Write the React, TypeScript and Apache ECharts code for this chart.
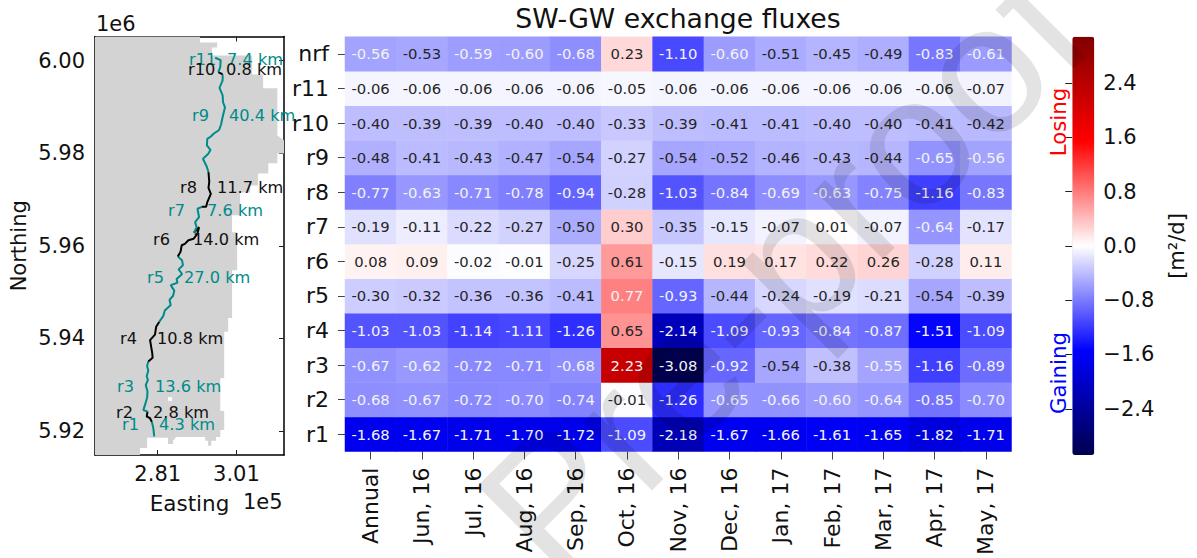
import React, { useEffect, useRef } from "react";
import * as echarts from "echarts";

const months = ["Annual", "Jun, 16", "Jul, 16", "Aug, 16", "Sep, 16", "Oct, 16", "Nov, 16", "Dec, 16", "Jan, 17", "Feb, 17", "Mar, 17", "Apr, 17", "May, 17"];
const reaches = ["r1", "r2", "r3", "r4", "r5", "r6", "r7", "r8", "r9", "r10", "r11", "nrf"];

const rowNrf = [-0.56, -0.53, -0.59, -0.6, -0.68, 0.23, -1.1, -0.6, -0.51, -0.45, -0.49, -0.83, -0.61];
const rowR11 = [-0.06, -0.06, -0.06, -0.06, -0.06, -0.05, -0.06, -0.06, -0.06, -0.06, -0.06, -0.06, -0.07];
const rowR10 = [-0.4, -0.39, -0.39, -0.4, -0.4, -0.33, -0.39, -0.41, -0.41, -0.4, -0.4, -0.41, -0.42];
const rowR9 = [-0.48, -0.41, -0.43, -0.47, -0.54, -0.27, -0.54, -0.52, -0.46, -0.43, -0.44, -0.65, -0.56];
const rowR8 = [-0.77, -0.63, -0.71, -0.78, -0.94, -0.28, -1.03, -0.84, -0.69, -0.63, -0.75, -1.16, -0.83];
const rowR7 = [-0.19, -0.11, -0.22, -0.27, -0.5, 0.3, -0.35, -0.15, -0.07, 0.01, -0.07, -0.64, -0.17];
const rowR6 = [0.08, 0.09, -0.02, -0.01, -0.25, 0.61, -0.15, 0.19, 0.17, 0.22, 0.26, -0.28, 0.11];
const rowR5 = [-0.3, -0.32, -0.36, -0.36, -0.41, 0.77, -0.93, -0.44, -0.24, -0.19, -0.21, -0.54, -0.39];
const rowR4 = [-1.03, -1.03, -1.14, -1.11, -1.26, 0.65, -2.14, -1.09, -0.93, -0.84, -0.87, -1.51, -1.09];
const rowR3 = [-0.67, -0.62, -0.72, -0.71, -0.68, 2.23, -3.08, -0.92, -0.54, -0.38, -0.55, -1.16, -0.89];
const rowR2 = [-0.68, -0.67, -0.72, -0.7, -0.74, -0.01, -1.26, -0.65, -0.66, -0.6, -0.64, -0.85, -0.7];
const rowR1 = [-1.68, -1.67, -1.71, -1.7, -1.72, -1.09, -2.18, -1.67, -1.66, -1.61, -1.65, -1.82, -1.71];
const rows = [rowR1, rowR2, rowR3, rowR4, rowR5, rowR6, rowR7, rowR8, rowR9, rowR10, rowR11, rowNrf];

const colorbarTicks = [-2.4, -1.6, -0.8, 0, 0.8, 1.6, 2.4];

// catchment outline: easting (1e5), northing (1e6)
const catchmentE = [2.6505, 2.9177, 2.9177, 2.961, 2.961, 2.948, 2.948, 3.05, 3.05, 3.078, 3.078, 3.114, 3.114, 3.131, 3.131, 3.114, 3.114, 3.091, 3.091, 3.065, 3.065, 3.045, 3.045, 3.0195, 3.0195, 2.999, 2.999, 3.012, 3.012, 2.999, 2.999, 2.989, 2.989, 2.979, 2.979, 2.969, 2.969, 2.979, 2.979, 2.969, 2.969, 2.958, 2.958, 2.946, 2.946, 2.938, 2.938, 2.9305, 2.9305, 2.857, 2.849, 2.849, 2.836, 2.836, 2.783, 2.783, 2.765, 2.765, 2.6505];
const catchmentN = [6.0052, 6.0052, 6.0039, 6.0039, 6.0028, 6.0028, 6.0011, 6.0011, 5.997, 5.997, 5.994, 5.994, 5.9838, 5.9828, 5.9799, 5.9799, 5.9778, 5.9778, 5.9756, 5.9756, 5.973, 5.973, 5.9715, 5.9715, 5.9666, 5.9666, 5.9629, 5.9629, 5.9547, 5.9547, 5.9444, 5.9444, 5.9414, 5.9414, 5.9314, 5.9314, 5.9243, 5.9243, 5.9202, 5.9202, 5.9187, 5.9187, 5.9179, 5.9179, 5.9168, 5.9168, 5.9179, 5.9179, 5.9187, 5.9187, 5.9179, 5.9172, 5.9172, 5.9185, 5.9185, 5.9163, 5.9163, 5.9148, 5.9148];
const holeE = [2.836, 2.8465, 2.8465, 2.836];
const holeN = [5.9273, 5.9273, 5.9265, 5.9265];

const r1Path = [[2.795, 5.922], [2.799, 5.9205], [2.801, 5.9188]];
const r2Path = [[2.784, 5.9242], [2.782, 5.9231], [2.79, 5.9228], [2.795, 5.922]];
const r3Path = [[2.786, 5.935], [2.783, 5.934], [2.786, 5.933], [2.782, 5.9318], [2.785, 5.931], [2.7795, 5.9299], [2.784, 5.9285], [2.783, 5.9272], [2.779, 5.926], [2.7735, 5.9245], [2.784, 5.9242]];
const r4Path = [[2.814, 5.9436], [2.806, 5.9425], [2.803, 5.9408], [2.7905, 5.9396], [2.796, 5.9368], [2.797, 5.9358], [2.786, 5.935]];
const r5Path = [[2.861, 5.9577], [2.872, 5.9568], [2.874, 5.9558], [2.863, 5.9549], [2.872, 5.9539], [2.858, 5.9528], [2.86, 5.952], [2.843, 5.9515], [2.852, 5.9503], [2.849, 5.9492], [2.84, 5.9483], [2.843, 5.9472], [2.828, 5.946], [2.824, 5.9448], [2.814, 5.9436]];
const r6Path = [[2.902, 5.9628], [2.915, 5.964], [2.911, 5.9626], [2.901, 5.9615], [2.888, 5.9612], [2.879, 5.9604], [2.871, 5.9601], [2.868, 5.9587], [2.861, 5.9577]];
const r7Path = [[2.922, 5.9684], [2.911, 5.968], [2.915, 5.9662], [2.905, 5.9651], [2.909, 5.964], [2.902, 5.9628]];
const r8Path = [[2.939, 5.9759], [2.941, 5.9738], [2.939, 5.9725], [2.945, 5.9712], [2.936, 5.9694], [2.933, 5.9684], [2.922, 5.9684]];
const r9Path = [[2.975, 5.997], [2.975, 5.9957], [2.967, 5.9941], [2.975, 5.9925], [2.976, 5.991], [2.981, 5.9899], [2.975, 5.9878], [2.971, 5.9862], [2.966, 5.985], [2.952, 5.9842], [2.945, 5.9836], [2.936, 5.9831], [2.935, 5.9817], [2.944, 5.9807], [2.938, 5.9798], [2.925, 5.9788], [2.935, 5.977], [2.939, 5.9759]];
const r10Path = [[2.964, 5.9975], [2.975, 5.997]];
const r11Path = [[2.956, 6.0006], [2.97, 6.0001], [2.969, 5.9986], [2.964, 5.9975]];

const TEAL = "#008b8b";
const FONT = "DejaVu Sans";

const riverLine = (path: number[][], color: string) => ({
  type: "line",
  xAxisIndex: 0,
  yAxisIndex: 0,
  data: path,
  symbol: "none",
  silent: true,
  z: 5,
  lineStyle: { color, width: 2 },
});

const polygonSeries = (es: number[], ns: number[], color: string, z: number) => ({
  type: "custom",
  xAxisIndex: 0,
  yAxisIndex: 0,
  silent: true,
  z,
  data: [[es[0], ns[0]]],
  clip: true,
  renderItem: (_: any, api: any) => ({
    type: "polygon",
    shape: { points: es.map((e, i) => api.coord([e, ns[i]])) },
    style: { fill: color },
  }),
});

const mapLabel = (text: string, x: number, y: number, color: string) => ({
  type: "text",
  x,
  y,
  z: 20,
  silent: true,
  style: { text, fill: color, font: `16.2px "${FONT}"`, textAlign: "left", textVerticalAlign: "middle" },
});

const bigText = (text: string, x: number, y: number, size: number, color = "#000", rotation = 0, align = "center") => ({
  type: "text",
  x,
  y,
  rotation,
  z: 20,
  silent: true,
  style: { text, fill: color, font: `${size}px "${FONT}"`, textAlign: align, textVerticalAlign: "middle" },
});

export default function App() {
  const ref = useRef<HTMLDivElement>(null);
  useEffect(() => {
    const chart = echarts.init(ref.current!, undefined, { renderer: "svg" });
    const heatData: any[] = [];
    rows.forEach((row, y) =>
      row.forEach((v, x) =>
        heatData.push({
          value: [x, y, v],
          label: { color: (v < 0 ? v <= -0.55 : v >= 0.7) ? "#f2f2f2" : "#262626" },
        })
      )
    );
    const black = { color: "#000", width: 1.5 };
    const mapTick = { show: true, inside: true, length: 5, lineStyle: { color: "#222", width: 1 } };
    chart.setOption({
      animation: false,
      backgroundColor: "#fff",
      textStyle: { fontFamily: FONT },
      title: {
        text: "SW-GW exchange fluxes",
        left: 673,
        top: 0,
        textAlign: "center",
        textStyle: { fontFamily: FONT, fontSize: 26.7, fontWeight: "normal", color: "#111" },
      },
      grid: [
        { left: 95, top: 36.5, width: 189, height: 418.5, containLabel: false },
        { left: 345, top: 36.7, width: 666.5, height: 418.3 },
        { left: 1072.3, top: 36.7, width: 22, height: 418.3 },
      ],
      xAxis: [
        {
          gridIndex: 0,
          type: "value",
          min: 2.6505,
          max: 3.131,
          name: "Easting",
          nameLocation: "middle",
          nameGap: 37,
          nameTextStyle: { fontSize: 21.5, color: "#111", fontFamily: FONT },
          axisLine: { show: true, onZero: false, lineStyle: black },
          axisTick: { ...mapTick, customValues: [2.81, 3.01] },
          axisLabel: { customValues: [2.81, 3.01], formatter: (v: number) => v.toFixed(2), fontSize: 21, color: "#111", margin: 8, fontFamily: FONT },
          splitLine: { show: false },
        },
        {
          gridIndex: 0,
          type: "value",
          position: "top",
          min: 2.6505,
          max: 3.131,
          axisLine: { show: true, onZero: false, lineStyle: black },
          axisTick: { ...mapTick, customValues: [2.81, 3.01] },
          axisLabel: { show: false },
          splitLine: { show: false },
        },
        {
          gridIndex: 1,
          type: "category",
          data: months,
          axisLine: { show: false },
          axisTick: { show: true, alignWithLabel: true, length: 8, lineStyle: { color: "#444", width: 1 } },
          axisLabel: { rotate: 90, fontSize: 22, color: "#111", margin: 16, interval: 0, fontFamily: FONT },
          splitArea: { show: false },
        },
        { gridIndex: 2, type: "value", min: 0, max: 1, show: false },
      ],
      yAxis: [
        {
          gridIndex: 0,
          type: "value",
          min: 5.9148,
          max: 6.0052,
          name: "Northing",
          nameLocation: "middle",
          nameGap: 66,
          nameTextStyle: { fontSize: 21, color: "#111", fontFamily: FONT },
          axisLine: { show: true, onZero: false, lineStyle: black },
          axisTick: { ...mapTick, customValues: [5.92, 5.94, 5.96, 5.98, 6.0] },
          axisLabel: { customValues: [5.92, 5.94, 5.96, 5.98, 6.0], formatter: (v: number) => v.toFixed(2), fontSize: 21, color: "#111", margin: 10, fontFamily: FONT },
          splitLine: { show: false },
        },
        {
          gridIndex: 0,
          type: "value",
          position: "right",
          min: 5.9148,
          max: 6.0052,
          axisLine: { show: true, onZero: false, lineStyle: black },
          axisTick: { ...mapTick, customValues: [5.92, 5.94, 5.96, 5.98, 6.0] },
          axisLabel: { show: false },
          splitLine: { show: false },
        },
        {
          gridIndex: 1,
          type: "category",
          data: reaches,
          axisLine: { show: false },
          axisTick: { show: true, alignWithLabel: true, length: 7, lineStyle: { color: "#444", width: 1 } },
          axisLabel: { fontSize: 22, color: "#111", margin: 16, interval: 0, fontFamily: FONT },
          splitArea: { show: false },
        },
        {
          gridIndex: 2,
          type: "value",
          position: "right",
          min: -3.08,
          max: 3.08,
          axisLine: { show: false },
          axisTick: { show: true, inside: true, length: 7, customValues: colorbarTicks, lineStyle: { color: "#222", width: 1 } },
          axisLabel: {
            customValues: colorbarTicks,
            formatter: (v: number) => (v < 0 ? "\u2212" : "") + Math.abs(v).toFixed(1),
            fontSize: 21,
            color: "#111",
            margin: 9,
            fontFamily: FONT,
          },
          splitLine: { show: false },
        },
      ],
      visualMap: {
        type: "continuous",
        seriesIndex: 0,
        min: -3.08,
        max: 3.08,
        calculable: false,
        itemWidth: 22,
        itemHeight: 418.3,
        left: 1072.3,
        top: 36.7,
        padding: 0,
        text: ["", ""],
        showLabel: false,
        inRange: { color: ["#00004d", "#0000ff", "#ffffff", "#ff0000", "#800000"] },
      },
      series: [
        {
          type: "heatmap",
          xAxisIndex: 2,
          yAxisIndex: 2,
          data: heatData,
          silent: true,
          label: { show: true, fontSize: 14.8, fontFamily: FONT, formatter: (p: any) => p.value[2].toFixed(2) },
        },
        polygonSeries(catchmentE, catchmentN, "#d3d3d3", 1),
        polygonSeries(holeE, holeN, "#ffffff", 2),
        riverLine(r1Path, TEAL),
        riverLine(r2Path, "#000"),
        riverLine(r3Path, TEAL),
        riverLine(r4Path, "#000"),
        riverLine(r5Path, TEAL),
        riverLine(r6Path, "#000"),
        riverLine(r7Path, TEAL),
        riverLine(r8Path, "#000"),
        riverLine(r9Path, TEAL),
        riverLine(r10Path, "#000"),
        riverLine(r11Path, TEAL),
      ],
      graphic: [
        bigText("1e6", 96, 24, 21, "#111", 0, "left"),
        bigText("1e5", 243, 502, 21, "#111", 0, "left"),
        bigText("Losing", 1058, 122, 21.3, "#ff0000", Math.PI / 2),
        bigText("Gaining", 1058, 373, 21.3, "#0000ff", Math.PI / 2),
        bigText("[m\u00b2/d]", 1177, 246, 21, "#111", Math.PI / 2),
        mapLabel("r11", 189, 59, TEAL),
        mapLabel("7.4 km", 227, 59, TEAL),
        mapLabel("r10", 188, 69, "#111"),
        mapLabel("0.8 km", 226, 69, "#111"),
        mapLabel("r9", 192, 115, TEAL),
        mapLabel("40.4 km", 229, 115, TEAL),
        mapLabel("r8", 180, 187, "#111"),
        mapLabel("11.7 km", 217, 187, "#111"),
        mapLabel("r7", 168, 210, TEAL),
        mapLabel("7.6 km", 207, 210, TEAL),
        mapLabel("r6", 153, 239, "#111"),
        mapLabel("14.0 km", 193, 239, "#111"),
        mapLabel("r5", 147, 277, TEAL),
        mapLabel("27.0 km", 184, 277, TEAL),
        mapLabel("r4", 120, 338, "#111"),
        mapLabel("10.8 km", 157, 338, "#111"),
        mapLabel("r3", 117, 386, TEAL),
        mapLabel("13.6 km", 155, 386, TEAL),
        mapLabel("r2", 116, 412, "#111"),
        mapLabel("2.8 km", 153, 412, "#111"),
        mapLabel("r1", 122, 424, TEAL),
        mapLabel("4.3 km", 159, 424, TEAL),
        {
          type: "text",
          x: 511,
          y: 541,
          rotation: Math.PI / 4,
          z: 50,
          silent: true,
          style: {
            text: "Pre-proof",
            fill: "rgba(0,0,0,0.11)",
            font: '184px "Liberation Sans"',
            textAlign: "left",
            textVerticalAlign: "middle",
          },
        },
      ],
    });
    return () => chart.dispose();
  }, []);
  return <div ref={ref} style={{ position: "absolute", left: 0, top: 0, width: 1197, height: 558 }} />;
}
